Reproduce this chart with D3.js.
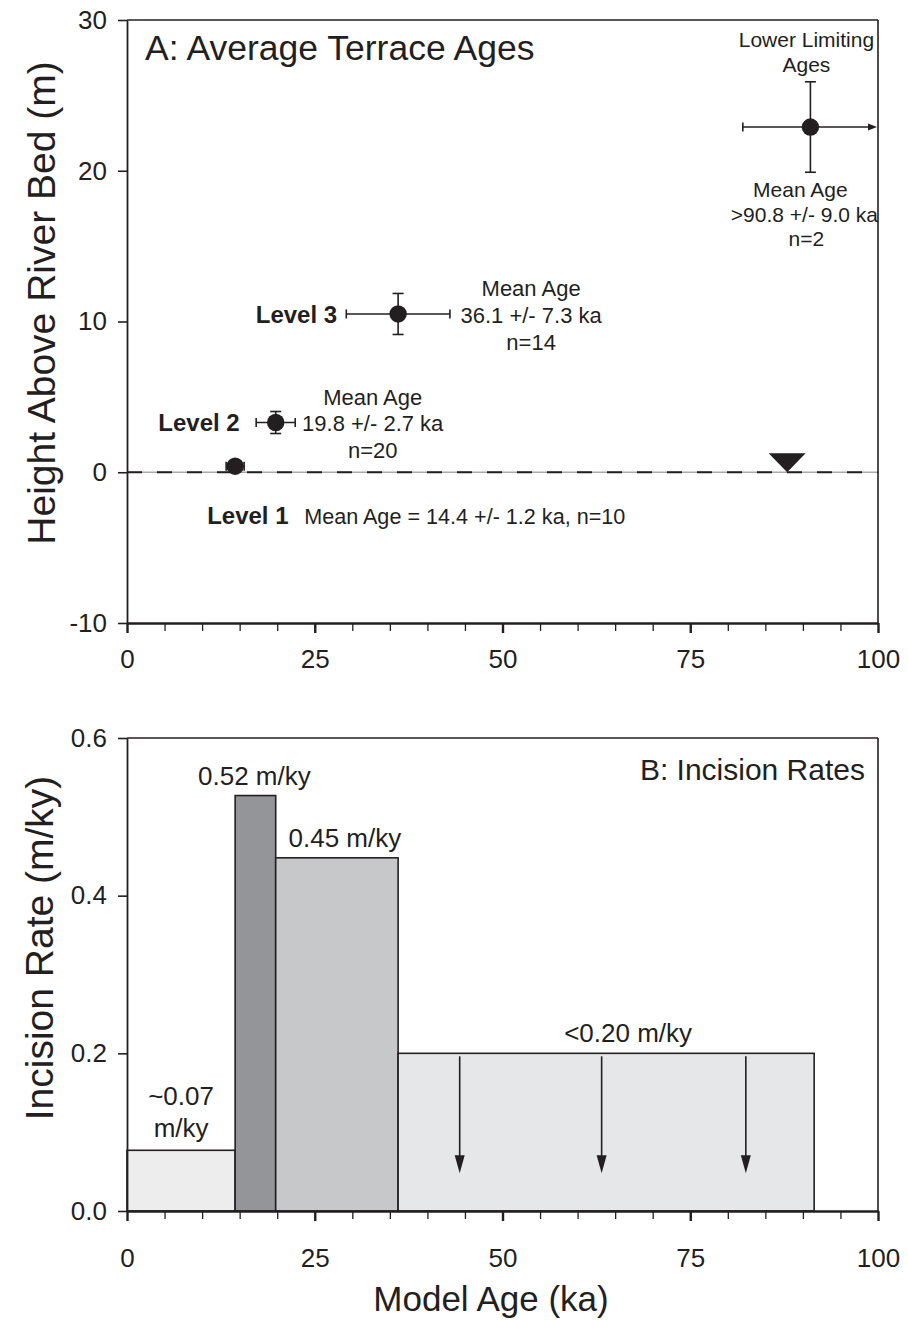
<!DOCTYPE html>
<html><head><meta charset="utf-8">
<script src="https://cdn.jsdelivr.net/npm/d3@7"></script>
<style>
body{margin:0;background:#fff}
svg{display:block}
text{font-family:"Liberation Sans",Arial,Helvetica,sans-serif;fill:#231f20}
</style>
</head><body>
<svg id="c" width="908" height="1320"></svg>
<script>
// ---------- data ----------
const ageTicks = [0, 25, 50, 75, 100];
const ageMinorTicks = [5, 10, 15, 20, 30, 35, 40, 45, 55, 60, 65, 70, 80, 85, 90, 95];
const heightTicks = [-10, 0, 10, 20, 30];
const heightTickLabels = ["-10", "0", "10", "20", "30"];
const rateTicks = [0, 0.2, 0.4, 0.6];
const rateTickLabels = ["0.0", "0.2", "0.4", "0.6"];

const terraceNames = ["Level 1", "Level 2", "Level 3", "Lower Limiting Ages"];
const terraceAges = [14.4, 19.8, 36.1, 91.0];
const terraceHeights = [0.4, 3.3, 10.5, 22.9];
const ageErrors = [1.2, 2.6, 6.9, 9.0];
const heightErrors = [0, 0.73, 1.36, 3.0];
const waterLevelAge = 87.9;
const riverBedHeight = 0;

const binStarts = [0, 14.4, 19.8, 36.1];
const binEnds = [14.4, 19.8, 36.1, 91.5];
const incisionRates = [0.077, 0.527, 0.448, 0.2];
const rateLabels = [["~0.07", "m/ky"], ["0.52 m/ky"], ["0.45 m/ky"], ["<0.20 m/ky"]];
const limitArrowAges = [44.3, 63.2, 82.4];
const limitArrowTo = 0.048;

// ---------- setup ----------
const ink = "#231f20";
const svg = d3.select("#c");
svg.append("rect").attr("width", 908).attr("height", 1320).attr("fill", "#fff");

const xA = d3.scaleLinear().domain([0, 100]).range([127, 878]);
const yA = d3.scaleLinear().domain([-10, 30]).range([623, 20]);
const xB = d3.scaleLinear().domain([0, 100]).range([127, 878]);
const yB = d3.scaleLinear().domain([0, 0.6]).range([1211, 738]);

function frame(x, y) {
  const g = svg.append("g");
  g.append("line").attr("x1", x.range()[0]).attr("x2", x.range()[1])
    .attr("y1", y.range()[1]).attr("y2", y.range()[1])
    .attr("stroke", ink).attr("stroke-width", 1.6);
  g.append("line").attr("x1", x.range()[1]).attr("x2", x.range()[1])
    .attr("y1", y.range()[1]).attr("y2", y.range()[0])
    .attr("stroke", ink).attr("stroke-width", 1.6);
}

function xAxis(x, yPix, labelBaseline) {
  const g = svg.append("g").attr("transform", `translate(0,${yPix})`);
  g.call(d3.axisBottom(x).tickValues(ageTicks).tickSize(10).tickSizeOuter(0));
  g.select(".domain").attr("stroke", ink).attr("stroke-width", 2.4);
  g.selectAll(".tick line").attr("stroke", ink).attr("stroke-width", 2.4);
  g.selectAll(".tick text").attr("y", labelBaseline - yPix).attr("dy", 0)
    .style("font-size", "26px").attr("fill", ink)
    .style("font-family", '"Liberation Sans",Arial,sans-serif');
  const gm = svg.append("g").attr("transform", `translate(0,${yPix})`);
  gm.call(d3.axisBottom(x).tickValues(ageMinorTicks).tickSize(8).tickFormat(""));
  gm.select(".domain").remove();
  gm.selectAll(".tick line").attr("stroke", ink).attr("stroke-width", 1.3);
}

function yAxis(y, xPix, ticks, labels) {
  const g = svg.append("g").attr("transform", `translate(${xPix},0)`);
  g.call(d3.axisLeft(y).tickValues(ticks).tickSize(9).tickSizeOuter(0).tickPadding(11)
    .tickFormat((d, i) => labels[i]));
  g.select(".domain").attr("stroke", ink).attr("stroke-width", 1.8);
  g.selectAll(".tick line").attr("stroke", ink).attr("stroke-width", 1.6);
  g.selectAll(".tick text").style("font-size", "26px").attr("fill", ink)
    .style("font-family", '"Liberation Sans",Arial,sans-serif');
}

// =================== PANEL A ===================
frame(xA, yA);

svg.append("line").attr("x1", xA(0)).attr("x2", xA(100))
  .attr("y1", yA(riverBedHeight)).attr("y2", yA(riverBedHeight))
  .attr("stroke", "#a7a9ac").attr("stroke-width", 1.6);
svg.append("line").attr("x1", xA(0)).attr("x2", xA(100))
  .attr("y1", yA(riverBedHeight)).attr("y2", yA(riverBedHeight))
  .attr("stroke", ink).attr("stroke-width", 1.8).attr("stroke-dasharray", "15,15");

{
  const tx = xA(waterLevelAge), ty = yA(riverBedHeight);
  svg.append("path").attr("d", `M${tx - 18.5},${ty - 19}L${tx + 18.5},${ty - 19}L${tx},${ty}Z`)
    .attr("fill", ink);
}

yAxis(yA, 127, heightTicks, heightTickLabels);
xAxis(xA, 623, 668);

terraceAges.forEach((age, i) => {
  const cx = xA(age), cy = yA(terraceHeights[i]);
  const g = svg.append("g").attr("stroke", ink).attr("stroke-width", 1.6).attr("fill", "none");
  const x0 = xA(age - ageErrors[i]);
  const isLimit = i === 3;
  const x1 = isLimit ? xA(100) - 9 : xA(age + ageErrors[i]);
  g.append("line").attr("x1", x0).attr("x2", x1).attr("y1", cy).attr("y2", cy);
  g.append("line").attr("x1", x0).attr("x2", x0).attr("y1", cy - 4.5).attr("y2", cy + 4.5);
  if (isLimit) {
    const tip = xA(100) - 1;
    svg.append("path").attr("d", `M${tip - 9},${cy - 3.5}L${tip},${cy}L${tip - 9},${cy + 3.5}Z`).attr("fill", ink);
  } else {
    g.append("line").attr("x1", x1).attr("x2", x1).attr("y1", cy - 4.5).attr("y2", cy + 4.5);
  }
  if (heightErrors[i] > 0) {
    const ya = yA(terraceHeights[i] + heightErrors[i]), yb = yA(terraceHeights[i] - heightErrors[i]);
    g.append("line").attr("x1", cx).attr("x2", cx).attr("y1", ya).attr("y2", yb);
    g.append("line").attr("x1", cx - 5.5).attr("x2", cx + 5.5).attr("y1", ya).attr("y2", ya);
    g.append("line").attr("x1", cx - 5.5).attr("x2", cx + 5.5).attr("y1", yb).attr("y2", yb);
  }
  svg.append("circle").attr("cx", cx).attr("cy", cy).attr("r", 8.7).attr("fill", ink);
});

function txt(x, y, s, size, anchor, weight) {
  return svg.append("text").attr("x", x).attr("y", y).text(s)
    .style("font-size", size + "px").attr("text-anchor", anchor || "start")
    .style("font-weight", weight || "normal");
}
txt(145, 60, "A: Average Terrace Ages", 35.5);

{
  const cx = xA(terraceAges[0]), cy = yA(terraceHeights[0]);
  txt(cx - 28, cy + 58, terraceNames[0], 24, "start", "bold");
  txt(cx + 69, cy + 58, "Mean Age = 14.4 +/- 1.2 ka, n=10", 21.6);
}
{
  const cx = xA(terraceAges[1]), cy = yA(terraceHeights[1]);
  txt(cx - 36, cy + 8.5, terraceNames[1], 24, "end", "bold");
  txt(cx + 97, cy - 18, "Mean Age", 22, "middle");
  txt(cx + 97, cy + 8.5, "19.8 +/- 2.7 ka", 22, "middle");
  txt(cx + 97, cy + 35, "n=20", 22, "middle");
}
{
  const cx = xA(terraceAges[2]), cy = yA(terraceHeights[2]);
  txt(cx - 61, cy + 9, terraceNames[2], 24, "end", "bold");
  txt(cx + 133, cy - 18, "Mean Age", 22, "middle");
  txt(cx + 133, cy + 9, "36.1 +/- 7.3 ka", 22, "middle");
  txt(cx + 133, cy + 36, "n=14", 22, "middle");
}
{
  const cx = xA(terraceAges[3]), cy = yA(terraceHeights[3]);
  txt(cx - 4, cy - 80, "Lower Limiting", 21, "middle");
  txt(cx - 4, cy - 55, "Ages", 21, "middle");
  txt(cx - 10, cy + 70, "Mean Age", 21, "middle");
  txt(cx - 6, cy + 95, ">90.8 +/- 9.0 ka", 21, "middle");
  txt(cx - 4, cy + 119, "n=2", 21, "middle");
}
svg.append("text").attr("transform", "translate(55,303) rotate(-90)")
  .attr("text-anchor", "middle").style("font-size", "39px").text("Height Above River Bed (m)");

// =================== PANEL B ===================
frame(xB, yB);

const barFills = ["#ededed", "#939598", "#c7c8ca", "#e6e7e8"];
incisionRates.forEach((r, i) => {
  svg.append("rect").attr("x", xB(binStarts[i])).attr("y", yB(r))
    .attr("width", xB(binEnds[i]) - xB(binStarts[i])).attr("height", yB(0) - yB(r))
    .attr("fill", barFills[i]).attr("stroke", ink).attr("stroke-width", 1.6);
});

limitArrowAges.forEach(a => {
  const x = xB(a), y0 = yB(incisionRates[3]) + 3, y1 = yB(limitArrowTo);
  svg.append("line").attr("x1", x).attr("x2", x).attr("y1", y0).attr("y2", y1 - 10)
    .attr("stroke", ink).attr("stroke-width", 1.6);
  svg.append("path").attr("d", `M${x - 5},${y1 - 18}L${x + 5},${y1 - 18}L${x},${y1}Z`).attr("fill", ink);
});

yAxis(yB, 127, rateTicks, rateTickLabels);
xAxis(xB, 1211, 1267);

{
  const c0 = (xB(binStarts[0]) + xB(binEnds[0])) / 2, t0 = yB(incisionRates[0]);
  txt(c0, t0 - 45, rateLabels[0][0], 26, "middle");
  txt(c0, t0 - 13, rateLabels[0][1], 26, "middle");
  const c1 = (xB(binStarts[1]) + xB(binEnds[1])) / 2, t1 = yB(incisionRates[1]);
  txt(c1 - 1, t1 - 10.5, rateLabels[1][0], 26, "middle");
  const c2 = (xB(binStarts[2]) + xB(binEnds[2])) / 2, t2 = yB(incisionRates[2]);
  txt(c2 + 8, t2 - 10.5, rateLabels[2][0], 26, "middle");
  const c3 = (xB(binStarts[3]) + xB(binEnds[3])) / 2, t3 = yB(incisionRates[3]);
  txt(c3 + 22, t3 - 11, rateLabels[3][0], 26, "middle");
}
txt(865, 780, "B: Incision Rates", 30, "end");

svg.append("text").attr("transform", "translate(53,948) rotate(-90)")
  .attr("text-anchor", "middle").style("font-size", "39px").text("Incision Rate (m/ky)");
txt(491, 1311, "Model Age (ka)", 35, "middle");
</script>
</body></html>
